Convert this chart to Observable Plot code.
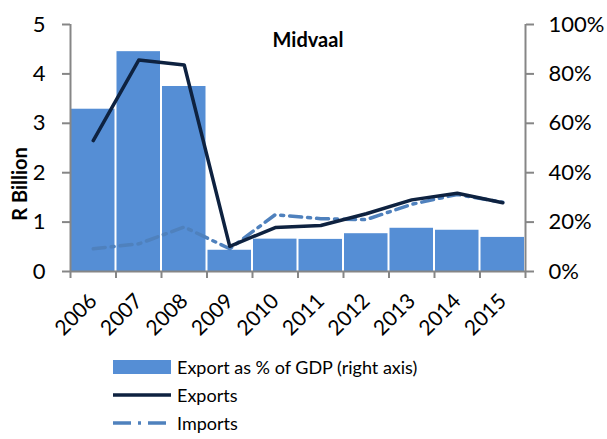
<!DOCTYPE html>
<html>
<head>
<meta charset="utf-8">
<script src="https://cdn.jsdelivr.net/npm/d3@7"></script>
<script src="https://cdn.jsdelivr.net/npm/@observablehq/plot@0.6"></script>
<style>
  html, body { margin: 0; padding: 0; background: #fff; }
  body { width: 607px; height: 439px; overflow: hidden; font-family: Lato, "Liberation Sans", sans-serif; }
  #legend { position: relative; margin-left: 113px; padding-top: 3px; }
  .row { height: 28px; display: flex; align-items: center; font-size: 18px; color: #000; }
  .row svg { width: 58px; height: 28px; margin-right: 6px; flex: none; }
</style>
</head>
<body>
<div id="chart"></div>
<div id="legend"></div>
<script>
const title = "Midvaal";
const yLabel = "R Billion";
const years = [2006, 2007, 2008, 2009, 2010, 2011, 2012, 2013, 2014, 2015];
const exportPctGDP = [65.7, 89.0, 74.9, 8.6, 13.1, 13.0, 15.3, 17.5, 16.7, 13.8];
const exportsRb = [2.65, 4.28, 4.18, 0.51, 0.89, 0.93, 1.17, 1.45, 1.585, 1.39];
const importsRb = [0.46, 0.56, 0.90, 0.46, 1.15, 1.07, 1.05, 1.36, 1.56, 1.40];
const leftTicks = [0, 1, 2, 3, 4, 5];
const rightTicks = [0, 20, 40, 60, 80, 100];
const seriesNames = ["Export as % of GDP (right axis)", "Exports", "Imports"];

const barColor = "#558ed5";
const exportColor = "#0e2240";
const importColor = "#4f81bd";
const axisColor = "#868686";
const dash = "12,6,3,6";

const leftMax = d3.max(leftTicks);
const rightMax = d3.max(rightTicks);
const toLeft = p => p / rightMax * leftMax;

const data = years.map((year, i) => ({
  year, pct: exportPctGDP[i], exp: exportsRb[i], imp: importsRb[i]
}));
const edges = [...years.map(y => y - 0.5), years[years.length - 1] + 0.5];

const chart = Plot.plot({
  width: 607,
  height: 350,
  marginTop: 24,
  marginBottom: 79,
  marginLeft: 70,
  marginRight: 82,
  style: { fontFamily: "Lato, 'Liberation Sans', sans-serif", fontSize: "20px", color: "#000", background: "#fff" },
  x: { domain: [edges[0], edges[edges.length - 1]] },
  y: { domain: [0, leftMax] },
  marks: [
    Plot.rectY(data, {
      x1: d => d.year - 0.5, x2: d => d.year + 0.5,
      y: d => toLeft(d.pct), fill: barColor, insetLeft: 1, insetRight: 1
    }),
    Plot.line(data, { x: "year", y: "imp", stroke: importColor, strokeWidth: 3.5, strokeDasharray: dash }),
    Plot.line(data, { x: "year", y: "exp", stroke: exportColor, strokeWidth: 3.5 }),
    Plot.ruleX([edges[0], edges[edges.length - 1]], { stroke: axisColor, strokeWidth: 2 }),
    Plot.ruleY([0], { stroke: axisColor, strokeWidth: 2 }),
    Plot.axisY({ anchor: "left", ticks: leftTicks, tickSize: 8, tickPadding: 17, tickFormat: d => String(d),
      stroke: axisColor, strokeWidth: 2, label: null, fontSize: 22 }),
    Plot.axisY({ anchor: "right", ticks: rightTicks.map(toLeft), tickSize: 8, tickPadding: 15,
      tickFormat: v => Math.round(v / leftMax * rightMax) + "%", stroke: axisColor, strokeWidth: 2, label: null, fontSize: 22 }),
    Plot.axisX({ ticks: edges, tickSize: 7, tickFormat: () => "", stroke: axisColor, strokeWidth: 2, label: null }),
    Plot.axisX({ ticks: years, tickSize: 0, tickPadding: 26, tickRotate: -45, tickFormat: d => String(d), label: null, fontSize: 21 }),
    Plot.text([title], { frameAnchor: "top", dx: 10, dy: 8, fontWeight: "bold", fontSize: 20 }),
    Plot.text([yLabel], { frameAnchor: "left", textAnchor: "middle", dx: -50, dy: 36, rotate: -90, fontWeight: "bold", fontSize: 20 })
  ]
});
document.getElementById("chart").appendChild(chart);

const legend = document.getElementById("legend");
const swatches = [
  `<svg><rect x="0" y="7" width="58" height="14" fill="${barColor}"/></svg>`,
  `<svg><line x1="0" x2="58" y1="14" y2="14" stroke="${exportColor}" stroke-width="3.5"/></svg>`,
  `<svg><line x1="0" x2="58" y1="14" y2="14" stroke="${importColor}" stroke-width="3.5" stroke-dasharray="18,7,3,7"/></svg>`
];
seriesNames.forEach((name, i) => {
  const row = document.createElement("div");
  row.className = "row";
  row.innerHTML = swatches[i] + `<span>${name}</span>`;
  legend.appendChild(row);
});
</script>
</body>
</html>
